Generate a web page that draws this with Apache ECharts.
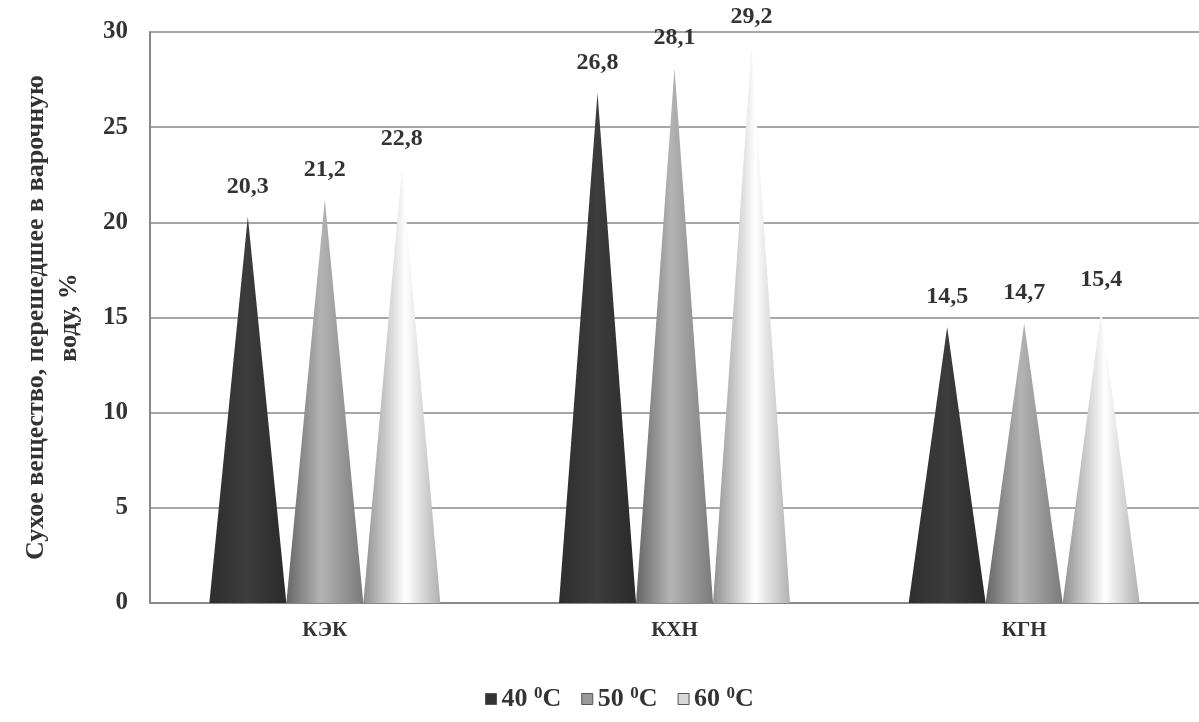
<!DOCTYPE html>
<html>
<head>
<meta charset="utf-8">
<script src="https://cdn.jsdelivr.net/npm/echarts@6/dist/echarts.min.js"></script>
<style>
  html, body { margin: 0; padding: 0; background: #fff; }
  #chart { width: 1199px; height: 722px; }
</style>
</head>
<body>
<div id="chart"></div>
<script>
// данные
var categories = ['КЭК', 'КХН', 'КГН']
var t40 = [20.3, 26.8, 14.5]
var t50 = [21.2, 28.1, 14.7]
var t60 = [22.8, 29.2, 15.4]
var seriesNames = ['40', '50', '60']

var font = 'Liberation Serif'
var cone = 'path://M0,100 L50,0 L100,100 Z'

function grad(stops) {
  return {
    type: 'linear', x: 0, y: 0, x2: 1, y2: 0,
    colorStops: stops.map(function (s) { return { offset: s[0], color: s[1] } })
  }
}

var fills = [
  grad([[0, '#2e2e2e'], [0.5, '#3c3c3c'], [1, '#2a2a2a']]),
  grad([[0, '#666666'], [0.45, '#b4b4b4'], [1, '#7a7a7a']]),
  grad([[0, '#909090'], [0.55, '#ffffff'], [1, '#b0b0b0']])
]
var legendFills = ['#333333', '#9a9a9a', '#d8d8d8']

function makeSeries(i, data) {
  return {
    name: seriesNames[i],
    type: 'pictorialBar',
    symbol: cone,
    symbolSize: ['100%', '100%'],
    barWidth: 77,
    barGap: '0%',
    itemStyle: { color: fills[i] },
    label: {
      show: true,
      position: 'top',
      distance: 18,
      fontFamily: font,
      fontWeight: 'bold',
      fontSize: 24,
      color: '#333',
      formatter: function (p) { return String(p.value).replace('.', ',') }
    },
    data: data
  }
}

var chart = echarts.init(document.getElementById('chart'))
chart.setOption({
  backgroundColor: '#fff',
  animation: false,
  grid: { left: 150, right: 0, top: 32, bottom: 119 },
  legend: {
    bottom: 5,
    left: 480,
    itemWidth: 11,
    itemHeight: 11,
    itemGap: 20,
    icon: 'rect',
    data: seriesNames.map(function (n, i) {
      return { name: n, itemStyle: { color: legendFills[i], borderColor: '#555', borderWidth: 1 } }
    }),
    formatter: function (n) { return n + ' {s|0}C' },
    textStyle: {
      fontFamily: font, fontWeight: 'bold', fontSize: 26, color: '#333',
      rich: {
        s: { fontFamily: font, fontWeight: 'bold', fontSize: 17, color: '#333', verticalAlign: 'top', padding: [0, 0, 10, 0] }
      }
    }
  },
  xAxis: {
    type: 'category',
    data: categories,
    axisLine: { show: true, lineStyle: { color: '#888', width: 2 } },
    axisTick: { show: false },
    axisLabel: { margin: 17, fontFamily: font, fontWeight: 'bold', fontSize: 21, color: '#333' }
  },
  yAxis: {
    type: 'value',
    min: 0,
    max: 30,
    interval: 5,
    name: 'Сухое вещество, перешедшее в варочную\nводу, %',
    nameLocation: 'middle',
    nameGap: 64,
    nameTextStyle: { fontFamily: font, fontWeight: 'bold', fontSize: 26, color: '#333', lineHeight: 33 },
    axisLine: { show: true, lineStyle: { color: '#888', width: 2 } },
    axisTick: { show: false },
    axisLabel: { margin: 22, fontFamily: font, fontWeight: 'bold', fontSize: 25, color: '#333' },
    splitLine: { show: true, lineStyle: { color: '#888', width: 1.5 } }
  },
  series: [makeSeries(0, t40), makeSeries(1, t50), makeSeries(2, t60)]
})
</script>
</body>
</html>
